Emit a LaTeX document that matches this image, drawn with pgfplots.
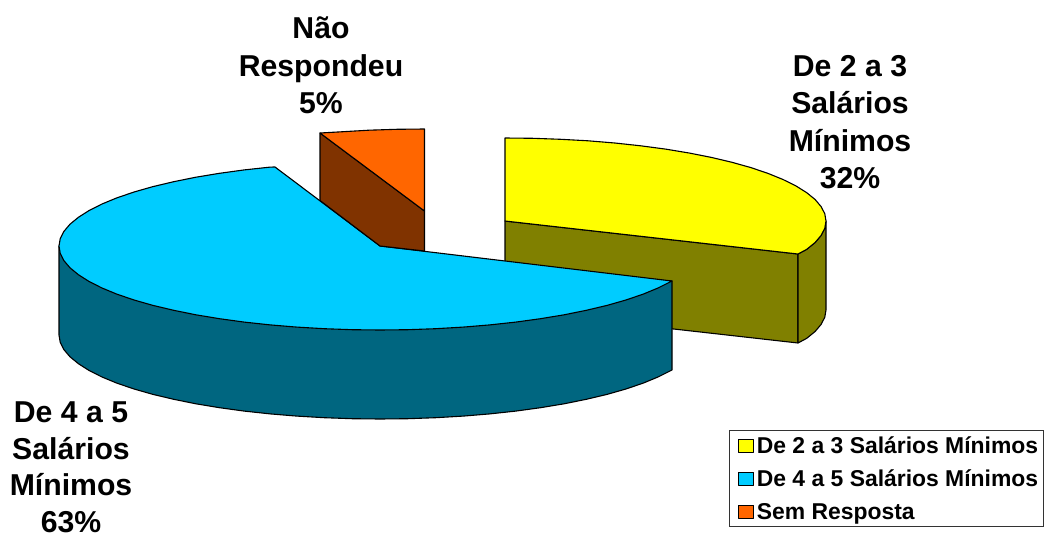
\documentclass[border=0pt]{standalone}
\usepackage{fontspec}
\usepackage{pgfplots}
\pgfplotsset{compat=1.18}
\setmainfont{Liberation Sans}
\definecolor{cy}{HTML}{FFFF00}
\definecolor{cyd}{HTML}{808000}
\definecolor{cb}{HTML}{00CCFF}
\definecolor{cbd}{HTML}{006680}
\definecolor{co}{HTML}{FF6600}
\definecolor{cod}{HTML}{803300}
\begin{document}
\begin{tikzpicture}[x=1pt,y=1pt]
\useasboundingbox (0,0) rectangle (1044,535);
\begin{axis}[
  at={(0,0)},anchor=south west,
  scale only axis, width=1044pt, height=535pt,
  xmin=0, xmax=1044, ymin=0, ymax=535, y dir=reverse,
  hide axis, clip=false,
  legend cell align=left,
  legend style={at={(0.99955,0.0150)},anchor=south east,draw=black!80,line width=0.8pt,
    font=\fontsize{22.9}{24}\selectfont\bfseries,inner xsep=3pt,inner ysep=4pt,
    row sep=11pt,/tikz/every even column/.append style={column sep=2pt}},
  legend image code/.code={\path[draw=none,fill=none] (-4pt,0pt) -- (18pt,0pt);\draw[#1,line width=1pt,draw=black] (2pt,-6.5pt) rectangle (17pt,6.5pt);},
  every axis plot/.append style={draw=black,line width=1.1pt,line join=round}
]
% yellow slice: inner wall, outer wall, top
\addplot[fill=cyd,forget plot] coordinates {(505,221)(798,254)(798,343)(505,310)} --cycle;
\addplot[fill=cyd,forget plot] coordinates {(798,254)(806.6,249.4)(815.1,242.5)(821.1,235.4)(824.8,228.2)(826,221)(826,310)(824.8,317.2)(821.1,324.4)(815.1,331.5)(806.6,338.4)(798,343)} --cycle;
\addplot[fill=cy] coordinates {(505,221)(505,138)(533,138.3)(560.7,139.3)(588.1,140.8)(614.8,143)(640.7,145.8)(665.5,149.1)(689.1,153)(711.3,157.4)(732,162.3)(750.9,167.6)(768,173.4)(783,179.5)(795.9,185.9)(806.6,192.6)(815.1,199.5)(821.1,206.6)(824.8,213.8)(826,221)(824.8,228.2)(821.1,235.4)(815.1,242.5)(806.6,249.4)(798,254)} --cycle;
\addlegendentry{De 2 a 3 Salários Mínimos}
% blue slice: wall, top
\addplot[fill=cbd,forget plot] coordinates {(59,246)(59,335)(60.2,342.3)(63.9,349.6)(69.9,356.7)(78.4,363.7)(89.1,370.5)(102,377)(117,383.2)(134.1,389)(153,394.4)(173.7,399.3)(195.9,403.8)(219.5,407.7)(244.3,411.1)(270.2,413.9)(296.9,416.1)(324.3,417.7)(352,418.7)(380,419)(408,418.7)(435.7,417.7)(463.1,416.1)(489.8,413.9)(515.7,411.1)(540.5,407.7)(564.1,403.8)(586.3,399.3)(607,394.4)(625.9,389)(643,383.2)(658,377)(672,370)(672,281)} --cycle;
\addplot[fill=cb] coordinates {(380,246)(275,167)(270.2,167.1)(244.3,169.9)(219.5,173.3)(195.9,177.2)(173.7,181.7)(153,186.6)(134.1,192)(117,197.8)(102,204)(89.1,210.5)(78.4,217.3)(69.9,224.3)(63.9,231.4)(60.2,238.7)(59,246)(60.2,253.3)(63.9,260.6)(69.9,267.7)(78.4,274.7)(89.1,281.5)(102,288)(117,294.2)(134.1,300)(153,305.4)(173.7,310.3)(195.9,314.8)(219.5,318.7)(244.3,322.1)(270.2,324.9)(296.9,327.1)(324.3,328.7)(352,329.7)(380,330)(408,329.7)(435.7,328.7)(463.1,327.1)(489.8,324.9)(515.7,322.1)(540.5,318.7)(564.1,314.8)(586.3,310.3)(607,305.4)(625.9,300)(643,294.2)(658,288)(672,281)} --cycle;
\addlegendentry{De 4 a 5 Salários Mínimos}
% orange slice: wall, top
\addplot[fill=cod,forget plot] coordinates {(320,133)(424.5,211)(424.5,251)(380,246)(320,200.5)} --cycle;
\addplot[fill=co] coordinates {(424.5,211)(424.5,129)(396.5,129.3)(368.8,130.2)(341.4,131.8)(320,133)} --cycle;
\addlegendentry{Sem Resposta}
% labels
\node[align=center,font=\fontsize{30.2}{37.5}\selectfont\bfseries] at (axis cs:321,65.5) {Não\\Respondeu\\5\%};
\node[align=center,font=\fontsize{30.2}{37.5}\selectfont\bfseries] at (axis cs:850,122) {De 2 a 3\\Salários\\Mínimos\\32\%};
\node[align=center,font=\fontsize{30.2}{36.5}\selectfont\bfseries] at (axis cs:71,467.5) {De 4 a 5\\Salários\\Mínimos\\63\%};
\end{axis}
\end{tikzpicture}
\end{document}
